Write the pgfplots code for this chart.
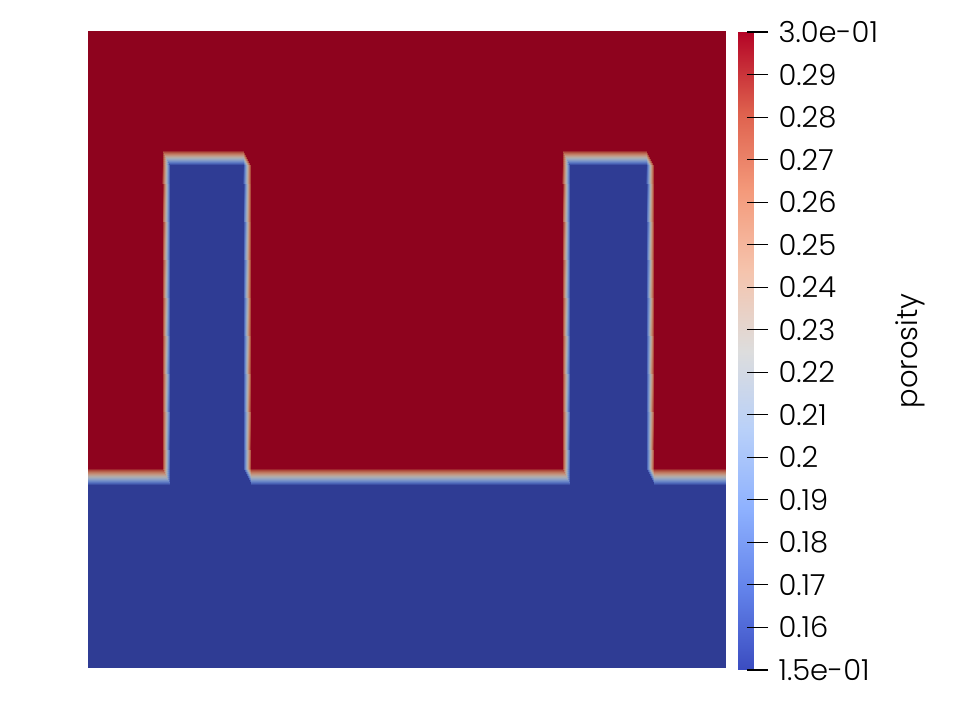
\documentclass[border=0pt]{standalone}
\usepackage{fontspec}
\setmainfont{Poppins}[UprightFont=* Light]
\usepackage{pgfplots}
\usepackage{pgfplotstable}
\pgfplotsset{compat=1.18}

% ParaView "Cool to Warm": bright for the bar, shaded (lit) for the field
\pgfplotsset{
  colormap={cwbright}{rgb255=(59,76,192) rgb255=(98,130,234) rgb255=(141,176,254)
    rgb255=(184,208,249) rgb255=(221,221,221) rgb255=(245,196,173)
    rgb255=(244,154,123) rgb255=(222,96,77) rgb255=(180,4,38)},
  colormap={cwshaded}{rgb255=(47,60,148) rgb255=(77,103,185) rgb255=(111,139,201)
    rgb255=(145,164,197) rgb255=(175,175,175) rgb255=(194,155,137)
    rgb255=(193,122,97) rgb255=(175,76,61) rgb255=(142,3,30)},
}

% porosity field on a tensor grid (10 x-nodes, 6 y-nodes)
\pgfplotstableread{
x y p
0 0 0.15
0.116 0 0.15
0.1285 0 0.15
0.243 0 0.15
0.2555 0 0.15
0.743 0 0.15
0.7555 0 0.15
0.8746 0 0.15
0.887 0 0.15
1 0 0.15
0 0.287 0.15
0.116 0.287 0.15
0.1285 0.287 0.15
0.243 0.287 0.15
0.2555 0.287 0.15
0.743 0.287 0.15
0.7555 0.287 0.15
0.8746 0.287 0.15
0.887 0.287 0.15
1 0.287 0.15
0 0.314 0.30
0.116 0.314 0.30
0.1285 0.314 0.15
0.243 0.314 0.15
0.2555 0.314 0.30
0.743 0.314 0.30
0.7555 0.314 0.15
0.8746 0.314 0.15
0.887 0.314 0.30
1 0.314 0.30
0 0.790 0.30
0.116 0.790 0.30
0.1285 0.790 0.15
0.243 0.790 0.15
0.2555 0.790 0.30
0.743 0.790 0.30
0.7555 0.790 0.15
0.8746 0.790 0.15
0.887 0.790 0.30
1 0.790 0.30
0 0.813 0.30
0.116 0.813 0.30
0.1285 0.813 0.30
0.243 0.813 0.30
0.2555 0.813 0.30
0.743 0.813 0.30
0.7555 0.813 0.30
0.8746 0.813 0.30
0.887 0.813 0.30
1 0.813 0.30
0 1 0.30
0.116 1 0.30
0.1285 1 0.30
0.243 1 0.30
0.2555 1 0.30
0.743 1 0.30
0.7555 1 0.30
0.8746 1 0.30
0.887 1 0.30
1 1 0.30
}\porosityfield

\pgfplotstableread{
x y p
0 0.15 0.15
1 0.15 0.15
0 0.30 0.30
1 0.30 0.30
}\barfield

\begin{document}
\begin{tikzpicture}
\path[use as bounding box] (0pt,0pt) rectangle (978pt,708pt);
\begin{axis}[
    at={(88pt,40pt)}, anchor=south west,
    scale only axis, width=638pt, height=637pt,
    xmin=0, xmax=1, ymin=0, ymax=1,
    view={0}{90}, hide axis,
    colormap name=cwshaded,
    point meta min=0.15, point meta max=0.30,
]
\addplot3[surf, shader=interp, mesh/cols=10] table[x=x, y=y, z=p] {\porosityfield};
\end{axis}

\begin{axis}[
    at={(738pt,38pt)}, anchor=south west,
    scale only axis, width=16pt, height=638pt,
    xmin=0, xmax=1, ymin=0.15, ymax=0.30,
    view={0}{90},
    colormap name=cwbright,
    point meta min=0.15, point meta max=0.30,
    axis line style={draw=none},
    xtick=\empty, ztick=\empty,
    ytick={0.15,0.16,0.17,0.18,0.19,0.20,0.21,0.22,0.23,0.24,0.25,0.26,0.27,0.28,0.29,0.30},
    yticklabels={1.5e-01,0.16,0.17,0.18,0.19,0.2,0.21,0.22,0.23,0.24,0.25,0.26,0.27,0.28,0.29,3.0e-01},
    ytick pos=right, yticklabel pos=right,
    tick align=outside, major tick length=21pt,
    major tick style={black, line width=1.1pt, xshift=-7pt},
    /pgf/number format/assume math mode=true,
    yticklabel style={font=\fontsize{29}{34}\selectfont, anchor=west, text=black},
    ylabel={porosity},
    every axis y label/.style={at={(rel axis cs:1,0.5)}, xshift=156pt, rotate=90, anchor=center, font=\fontsize{29}{34}\selectfont},
]
\addplot3[surf, shader=interp, mesh/cols=2] table[x=x, y=y, z=p] {\barfield};
\end{axis}
\end{tikzpicture}
\end{document}
